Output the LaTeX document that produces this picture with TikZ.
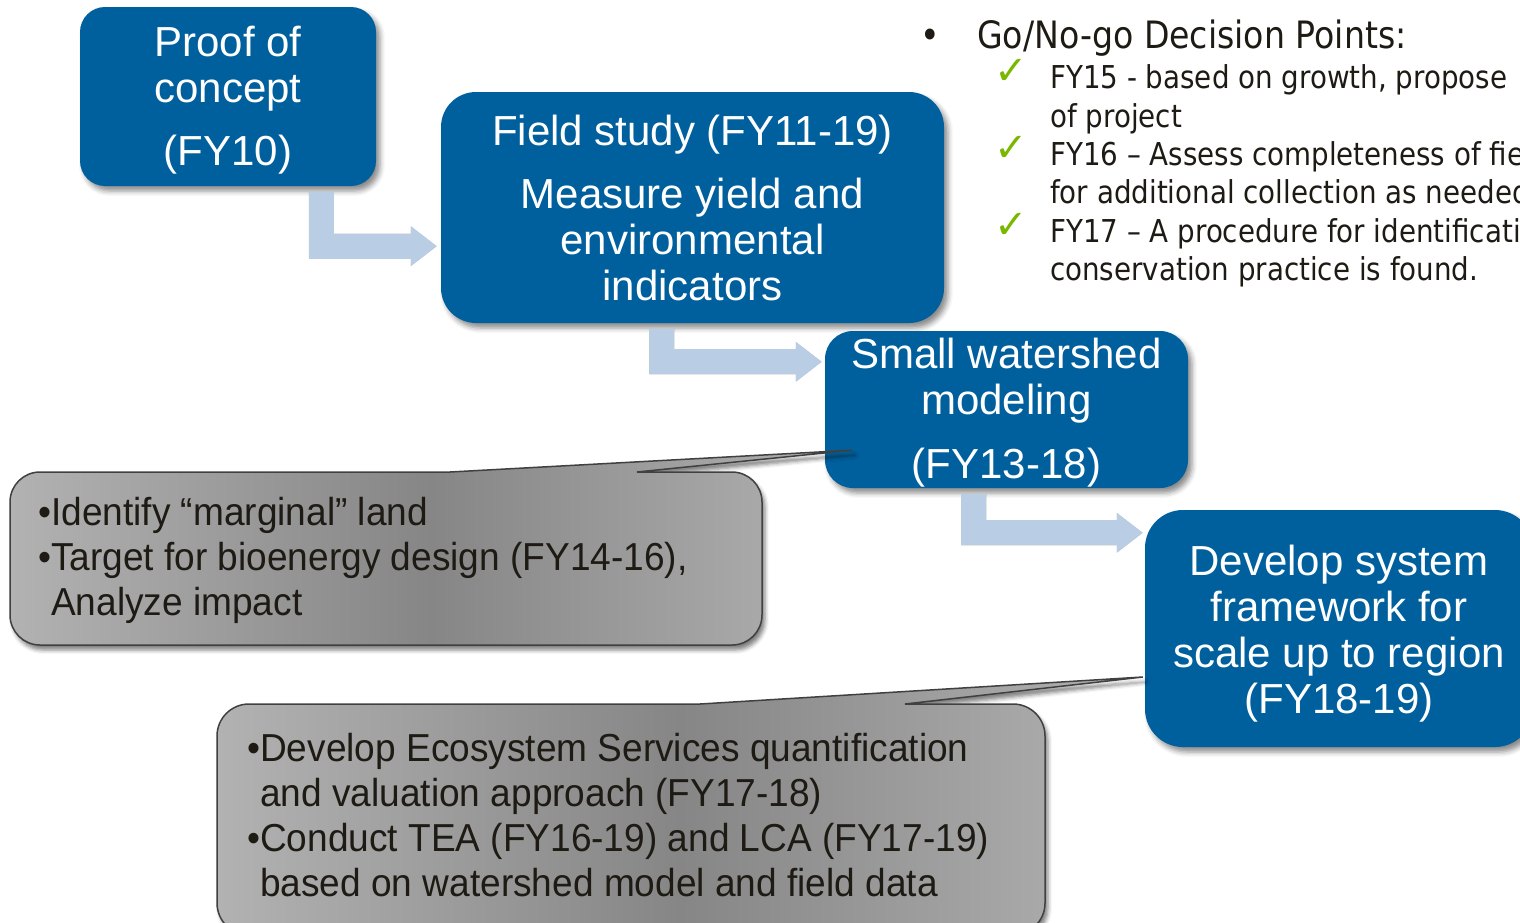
\documentclass[tikz,border=0pt]{standalone}
\usepackage{fontspec}
\setmainfont{Liberation Sans}
\newfontfamily\calloutfont{Liberation Sans}[FakeStretch=0.95]
\newfontfamily\notefont{DejaVu Sans}[FakeStretch=0.88]
\newfontfamily\symbolfont{DejaVu Sans}
\usetikzlibrary{arrows.meta,shadows.blur,calc}

\definecolor{stepblue}{RGB}{0,95,157}
\definecolor{flowblue}{RGB}{185,205,229}
\definecolor{calloutlight}{RGB}{178,178,178}
\definecolor{calloutdark}{RGB}{134,134,134}
\definecolor{calloutedge}{RGB}{64,64,64}
\definecolor{inktext}{RGB}{30,26,20}
\definecolor{tickgreen}{RGB}{122,184,0}

\tikzset{
  stepbox/.style={fill=stepblue, text=white, align=center, inner sep=0pt,
    font=\fontsize{42}{46}\selectfont,
    blur shadow={shadow xshift=4pt, shadow yshift=-5pt, shadow blur radius=5pt, shadow opacity=45}},
  flow/.style={draw=flowblue, line width=25pt, line join=miter,
    -{Triangle[width=38pt,length=26pt]}},
  flowshade/.style={draw=black, line width=25pt, line join=miter,
    -{Triangle[width=38pt,length=26pt]}},
  callout/.style={draw=calloutedge, line width=1.5pt,
    left color=calloutlight, right color=calloutlight, middle color=calloutdark,
    blur shadow={shadow xshift=3pt, shadow yshift=-5pt, shadow blur radius=4pt, shadow opacity=50}},
  callouttext/.style={text=inktext, align=left, inner sep=0pt,
    font=\calloutfont\fontsize{39}{45}\selectfont},
  notehead/.style={text=inktext, inner sep=0pt, font=\notefont\fontsize{37.7}{40}\selectfont},
  notebody/.style={text=inktext, align=left, inner sep=0pt, font=\notefont\fontsize{31.5}{38.4}\selectfont},
  tick/.style={text=tickgreen, inner sep=0pt, font=\symbolfont\fontsize{40}{40}\selectfont},
}

\begin{document}
\begin{tikzpicture}[x=1pt,y=-1pt]
\useasboundingbox (0,0) rectangle (1520,922);
\clip (0,0) rectangle (1520,922);

% project stages (a tall strut on the first line nudges a text block down)
\node[stepbox, rounded corners=25pt, minimum width=296pt, minimum height=179pt]
  (proof) at (228,96.5) {\rule{0pt}{37pt}Proof of\\concept\\[17pt](FY10)};
\node[stepbox, rounded corners=35pt, minimum width=503pt, minimum height=231pt]
  (field) at (692.5,207.5) {Field study (FY11-19)\\[17pt]Measure yield and\\environmental\\indicators};
\node[stepbox, rounded corners=28pt, minimum width=363pt, minimum height=157pt]
  (small) at (1006.5,409.5) {\rule{0pt}{37pt}Small watershed\\modeling\\[18pt](FY13-18)};
\node[stepbox, rounded corners=38pt, minimum width=388pt, minimum height=237pt]
  (scale) at (1339,628.5) {\rule{0pt}{40pt}Develop system\\framework for\\scale up to region\\(FY18-19)};

% elbow arrows between stages
\coordinate (f1s) at ($(proof.south west)+(241.5,6)$);
\coordinate (f1e) at ($(field.south west)+(-4,-77)$);
\coordinate (f2s) at ($(field.south west)+(221,6)$);
\coordinate (f2e) at ($(small.north west)+(-3,31)$);
\coordinate (f3s) at ($(small.south west)+(149,6)$);
\coordinate (f3e) at ($(scale.north west)+(-2,23)$);

\begin{scope}[transparency group, opacity=0.28, shift={(4,6)}]
  \draw[flowshade] (f1s) |- (f1e);
  \draw[flowshade] (f2s) |- (f2e);
  \draw[flowshade] (f3s) |- (f3e);
\end{scope}
\draw[flow] (f1s) |- (f1e);
\draw[flow] (f2s) |- (f2e);
\draw[flow] (f3s) |- (f3e);

% callouts
\coordinate (tip1) at ($(small.south west)+(27,-38)$);
\coordinate (tip2) at ($(scale.west)+(-2,48.5)$);

\path[callout] (700,472) [rounded corners=30pt] -- (762,472) -- (762,645) -- (10,645)
  -- (10,472) -- (300,472) [sharp corners] -- (450,472) -- (tip1) -- (637,472) -- cycle;
\node[callouttext, anchor=west] (landtext) at (38,560)
  {•Identify “marginal” land\\•Target for bioenergy design (FY14-16),\\\hphantom{•}Analyze impact};

\path[callout] (960,704) [rounded corners=32pt] -- (1045,704) -- (1045,935) -- (217,935)
  -- (217,704) -- (500,704) [sharp corners] -- (700,704) -- (tip2) -- (905,704) -- cycle;
\node[callouttext, anchor=west] (esstext) at (247,815.5)
  {•Develop Ecosystem Services quantification\\\hphantom{•}and valuation approach (FY17-18)\\•Conduct TEA (FY16-19) and LCA (FY17-19)\\\hphantom{•}based on watershed model and field data};

% decision points
\node[notehead] (dot) at (930,39) {•};
\node[notehead, anchor=west] (gonogo) at (977,38.5) {Go/No-go Decision Points:};
\node[tick] (t1) at (1011,72) {✓};
\node[tick] (t2) at (1011,149) {✓};
\node[tick] (t3) at (1011,226) {✓};
\node[notebody, anchor=west] (points) at (1050,176)
  {FY15 - based on growth, propose\\of project\\FY16 – Assess completeness of fie\\for additional collection as needed\\FY17 – A procedure for identificati\\conservation practice is found.};
\end{tikzpicture}
\end{document}
